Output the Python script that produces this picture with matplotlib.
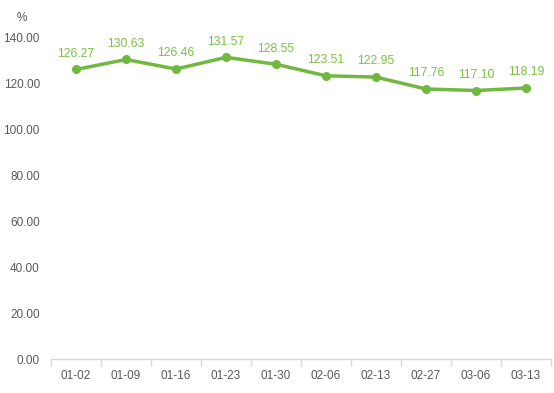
import matplotlib
matplotlib.use("Agg")
import matplotlib.pyplot as plt
import numpy as np

dates = ['01-02', '01-09', '01-16', '01-23', '01-30', '02-06', '02-13', '02-27', '03-06', '03-13']
values = [126.27, 130.63, 126.46, 131.57, 128.55, 123.51, 122.95, 117.76, 117.10, 118.19]
yticks = [0, 20, 40, 60, 80, 100, 120, 140]

GREEN = '#70b83f'
GREY = '#595959'

plt.rcParams['font.family'] = ['Liberation Sans', 'DejaVu Sans']

fig = plt.figure(figsize=(5.54, 3.93), dpi=100)
ax = fig.add_axes([51 / 554, 1 - 359 / 393, 500 / 554, 321 / 393])

x = np.arange(len(dates))
ax.plot(x, values, color=GREEN, linewidth=2.5, marker='o', markersize=5.5, zorder=3)
for xi, v in zip(x, values):
    ax.annotate('{:.2f}'.format(v), (xi, v), xytext=(0, 7), textcoords='offset points',
                ha='center', va='bottom', color='#7cc043', fontsize=8.8)

ax.set_xlim(-0.5, len(dates) - 0.5)
ax.set_ylim(0, 140)

ax.set_xticks(x)
ax.set_xticklabels(dates)
ax.set_xticks(np.arange(-0.5, len(dates)), minor=True)
ax.tick_params(axis='x', which='major', length=0, pad=8, labelsize=8.5, labelcolor=GREY)
ax.tick_params(axis='x', which='minor', length=5, color='#d9d9d9', width=1)

ax.set_yticks(yticks)
ax.set_yticklabels(['{:.2f}'.format(t) for t in yticks])
ax.tick_params(axis='y', length=0, pad=8, labelsize=8.5, labelcolor=GREY)

for side in ['top', 'right', 'left']:
    ax.spines[side].set_visible(False)
ax.spines['bottom'].set_color('#d9d9d9')
ax.spines['bottom'].set_linewidth(1)

fig.text(22 / 554, 1 - 18 / 393, '%', ha='center', va='center', fontsize=8.5, color=GREY)

fig.savefig('out.png', dpi=100)
